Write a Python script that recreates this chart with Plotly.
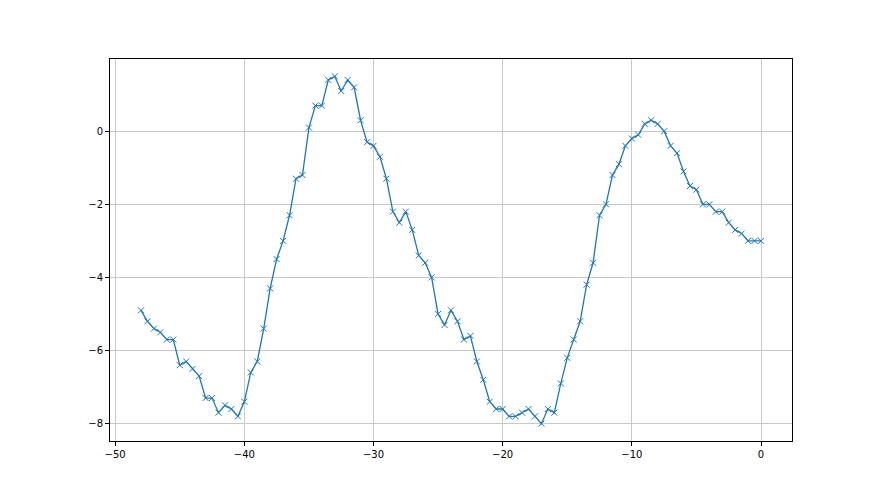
import numpy as np
import plotly.graph_objects as go

# x positions: every half step from -48 to 0
x_values = [
    -48.0, -47.5, -47.0, -46.5, -46.0, -45.5, -45.0, -44.5, -44.0, -43.5,
    -43.0, -42.5, -42.0, -41.5, -41.0, -40.5, -40.0, -39.5, -39.0, -38.5,
    -38.0, -37.5, -37.0, -36.5, -36.0, -35.5, -35.0, -34.5, -34.0, -33.5,
    -33.0, -32.5, -32.0, -31.5, -31.0, -30.5, -30.0, -29.5, -29.0, -28.5,
    -28.0, -27.5, -27.0, -26.5, -26.0, -25.5, -25.0, -24.5, -24.0, -23.5,
    -23.0, -22.5, -22.0, -21.5, -21.0, -20.5, -20.0, -19.5, -19.0, -18.5,
    -18.0, -17.5, -17.0, -16.5, -16.0, -15.5, -15.0, -14.5, -14.0, -13.5,
    -13.0, -12.5, -12.0, -11.5, -11.0, -10.5, -10.0, -9.5, -9.0, -8.5,
    -8.0, -7.5, -7.0, -6.5, -6.0, -5.5, -5.0, -4.5, -4.0, -3.5,
    -3.0, -2.5, -2.0, -1.5, -1.0, -0.5, 0.0,
]

y_values = [
    -4.9, -5.2, -5.4, -5.5, -5.7, -5.7, -6.4, -6.3, -6.5, -6.7,
    -7.3, -7.3, -7.7, -7.5, -7.6, -7.8, -7.4, -6.6, -6.3, -5.4,
    -4.3, -3.5, -3.0, -2.3, -1.3, -1.2, 0.1, 0.7, 0.7, 1.4,
    1.5, 1.1, 1.4, 1.2, 0.3, -0.3, -0.4, -0.7, -1.3, -2.2,
    -2.5, -2.2, -2.7, -3.4, -3.6, -4.0, -5.0, -5.3, -4.9, -5.2,
    -5.7, -5.6, -6.3, -6.8, -7.4, -7.6, -7.6, -7.8, -7.8, -7.7,
    -7.6, -7.8, -8.0, -7.6, -7.7, -6.9, -6.2, -5.7, -5.2, -4.2,
    -3.6, -2.3, -2.0, -1.2, -0.9, -0.4, -0.2, -0.1, 0.2, 0.3,
    0.2, 0.0, -0.4, -0.6, -1.1, -1.5, -1.6, -2.0, -2.0, -2.2,
    -2.2, -2.5, -2.7, -2.8, -3.0, -3.0, -3.0,
]

x_ticks = [-50, -40, -30, -20, -10, 0]
y_ticks = [-8, -6, -4, -2, 0]

color = "#1f77b4"

fig = go.Figure()
fig.add_trace(
    go.Scatter(
        x=x_values,
        y=y_values,
        mode="lines+markers",
        line=dict(color=color, width=1.3),
        marker=dict(symbol="x-thin", size=6, color=color, line=dict(width=1, color=color)),
        showlegend=False,
    )
)

# matplotlib-like 5% padding around data
x_pad = 0.05 * (max(x_values) - min(x_values))
y_pad = 0.05 * (max(y_values) - min(y_values))

axis_style = dict(
    showline=True,
    linecolor="black",
    linewidth=1,
    mirror=True,
    ticks="outside",
    ticklen=4,
    tickcolor="black",
    showgrid=True,
    gridcolor="#c8c8c8",
    gridwidth=1,
    zeroline=False,
    tickfont=dict(family="DejaVu Sans", size=10, color="black"),
)

fig.update_xaxes(
    range=[min(x_values) - x_pad, max(x_values) + x_pad],
    tickvals=x_ticks,
    **axis_style,
)
fig.update_yaxes(
    range=[min(y_values) - y_pad, max(y_values) + y_pad],
    tickvals=y_ticks,
    **axis_style,
)

# page body adds an 8px margin, so the figure is a bit smaller than the window
fig.update_layout(
    width=864,
    height=479,
    margin=dict(l=102, r=80, t=51, b=46),
    paper_bgcolor="white",
    plot_bgcolor="white",
)

fig.write_html("out.html")
